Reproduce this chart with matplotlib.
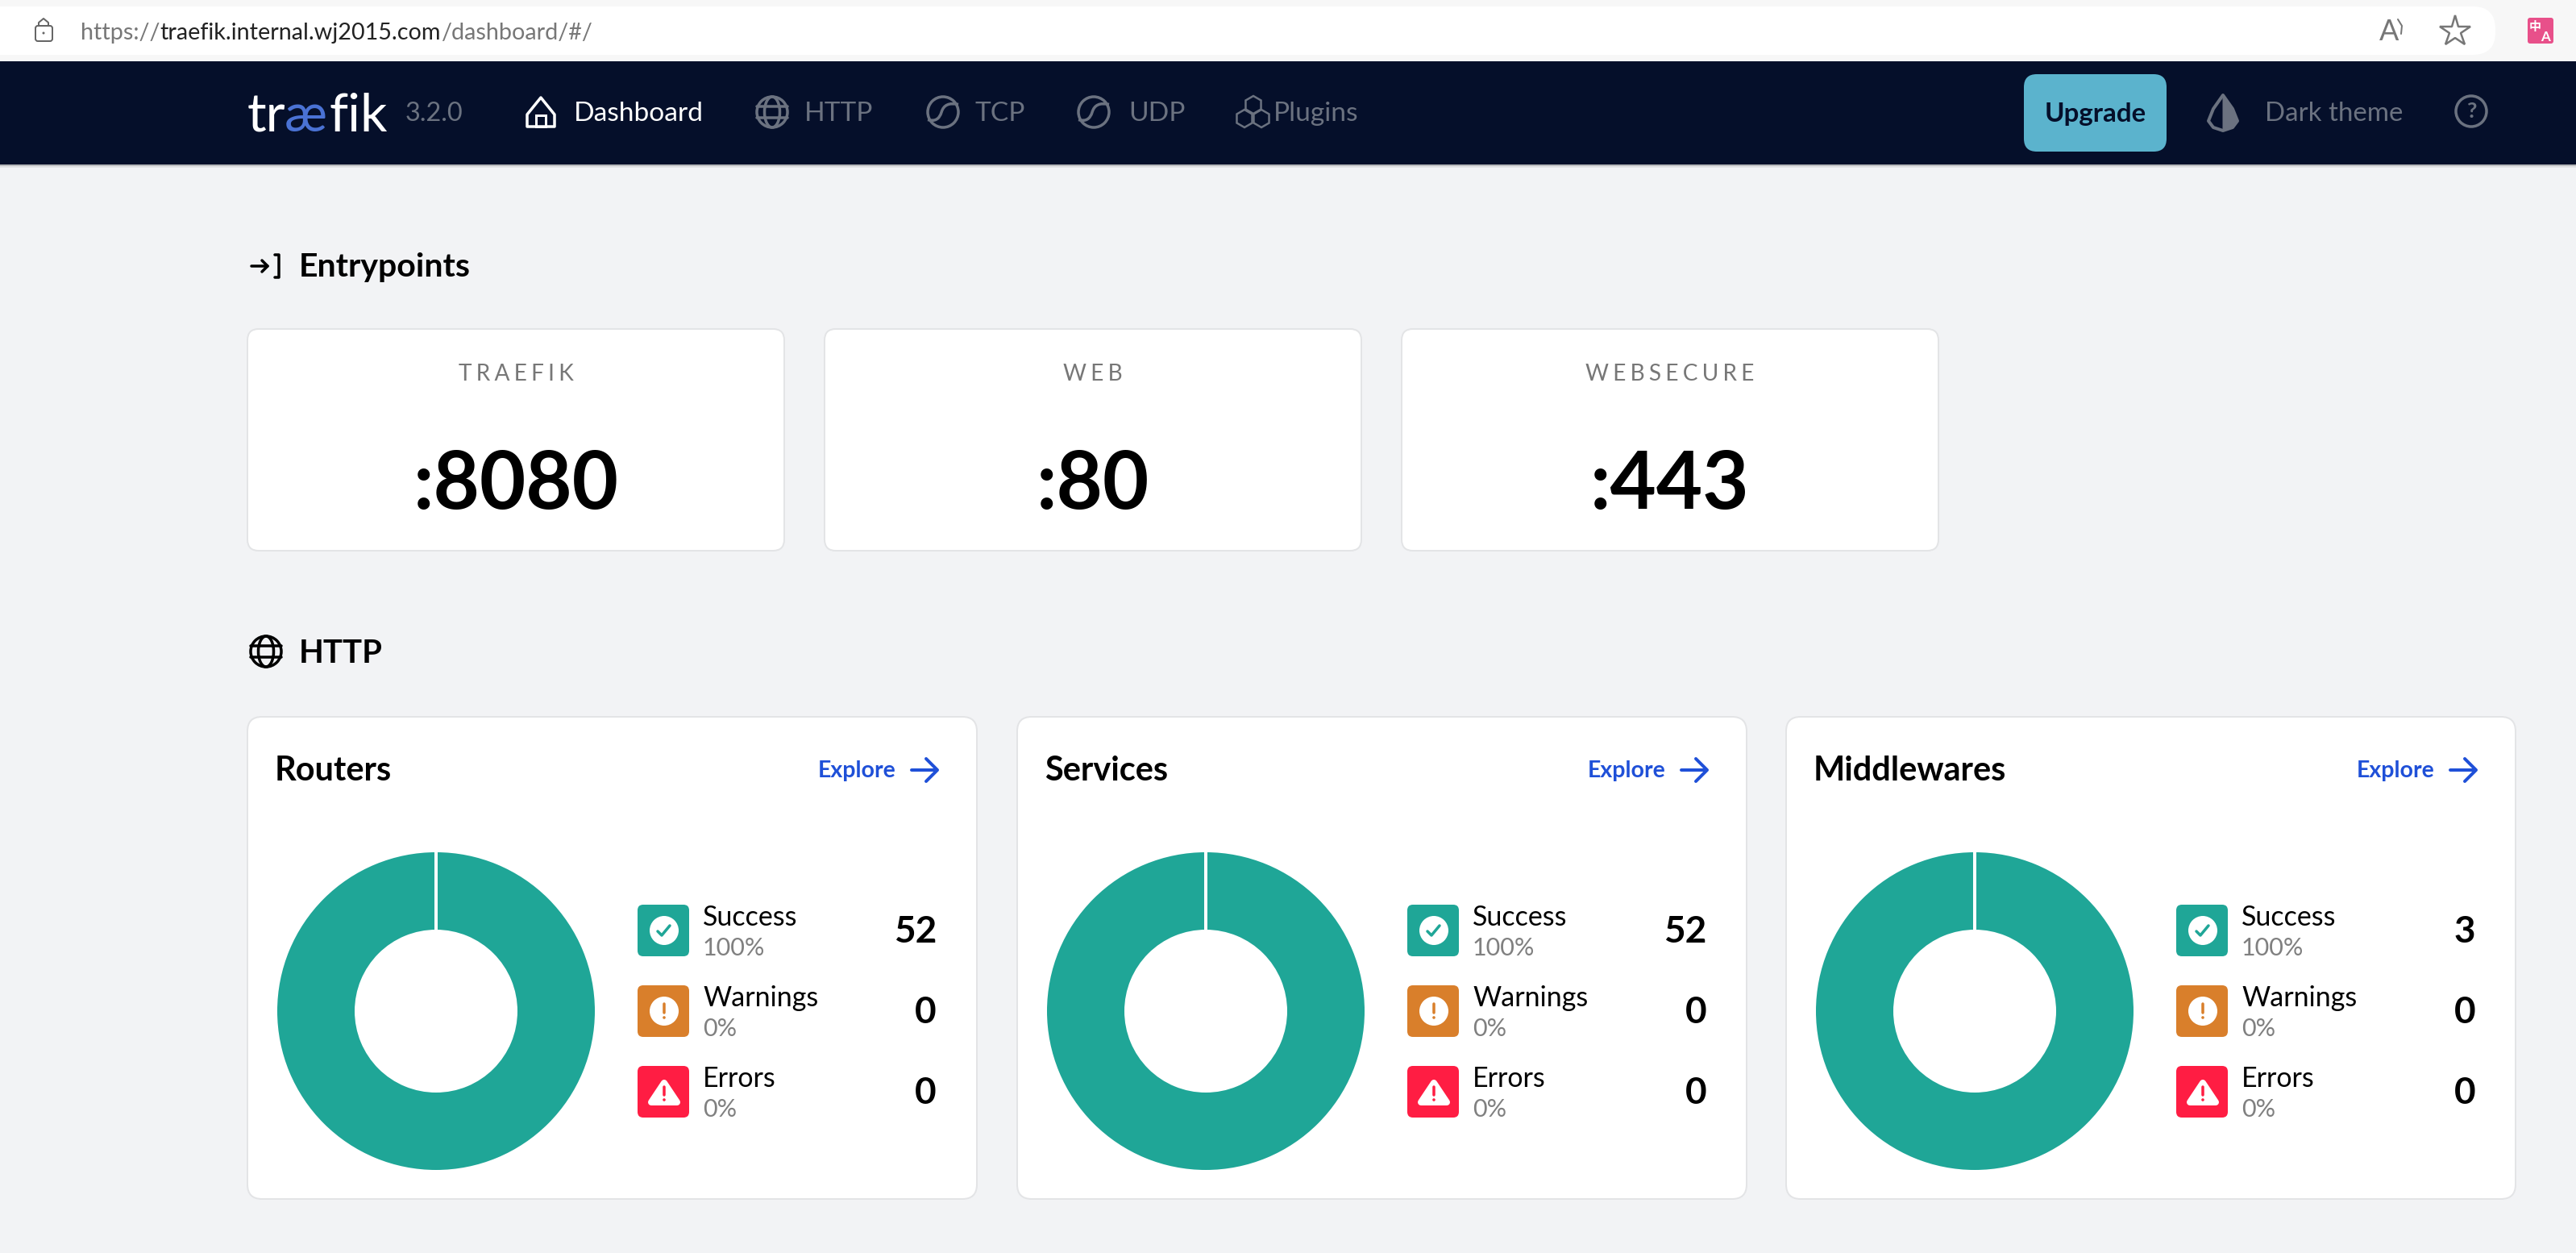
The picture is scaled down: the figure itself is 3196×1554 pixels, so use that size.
import matplotlib
matplotlib.use('Agg')
import matplotlib.pyplot as plt
from matplotlib.patches import Circle, Ellipse, FancyBboxPatch, Polygon, Rectangle, RegularPolygon, PathPatch
from matplotlib.path import Path

W, H = 3196, 1554

plt.rcParams['font.family'] = ['Lato', 'DejaVu Sans']

url_parts = ['https://', 'traefik.internal.wj2015.com', '/dashboard/#/']
version = '3.2.0'
nav_labels = ['Dashboard', 'HTTP', 'TCP', 'UDP', 'Plugins']
nav_x = [712, 998, 1210, 1400, 1580]

entry_names = ['TRAEFIK', 'WEB', 'WEBSECURE']
entry_ports = [':8080', ':80', ':443']

card_titles = ['Routers', 'Services', 'Middlewares']
success_counts = [52, 52, 3]
warning_counts = [0, 0, 0]
error_counts = [0, 0, 0]
success_pct = ['100%', '100%', '100%']
warning_pct = ['0%', '0%', '0%']
error_pct = ['0%', '0%', '0%']

BG = '#f2f3f5'
NAVY = '#050f2a'
MUTED = '#6b7280'
TEAL = '#1fa697'
ORANGE = '#d97f2b'
RED = '#ff1d43'
BLUE = '#1f50d8'
GRID = '#e3e4e6'

fig = plt.figure(figsize=(31.96, 15.54), dpi=100, facecolor=BG)
ax = fig.add_axes([0, 0, 1, 1])
ax.set_xlim(0, W)
ax.set_ylim(H, 0)
ax.axis('off')


def px(v):
    return v * 0.72


def box(x0, y0, x1, y1, r, fc, ec='none', lw=0, z=2):
    p = FancyBboxPatch((x0 + r, y0 + r), x1 - x0 - 2 * r, y1 - y0 - 2 * r,
                       boxstyle='round,pad=%g,rounding_size=%g' % (r, r),
                       fc=fc, ec=ec, lw=px(lw), zorder=z)
    ax.add_patch(p)


def line(xs, ys, color, lw, z=4, cap='round'):
    ax.plot(xs, ys, color=color, lw=px(lw), solid_capstyle=cap, solid_joinstyle='round', zorder=z)


def label(x, y, s, size, color='black', ha='left', weight='normal', va='center', **kw):
    # centred text sat about 2px high against the screenshot
    if va == 'center':
        y = y + 2
    return ax.text(x, y, s, fontsize=px(size), color=color, ha=ha, va=va, fontweight=weight, zorder=5, **kw)


def globe(cx, cy, r, color, lw):
    ax.add_patch(Circle((cx, cy), r, fc='none', ec=color, lw=px(lw), zorder=4))
    ax.add_patch(Ellipse((cx, cy), r, 2 * r, fc='none', ec=color, lw=px(lw), zorder=4))
    line([cx - r, cx + r], [cy - r * 0.35, cy - r * 0.35], color, lw)
    line([cx - r, cx + r], [cy + r * 0.35, cy + r * 0.35], color, lw)


def swirl(cx, cy, r, color, lw):
    ax.add_patch(Circle((cx, cy), r, fc='none', ec=color, lw=px(lw), zorder=4))
    verts = [(cx - r, cy + r * 0.5), (cx - r * 0.3, cy + r * 0.7), (cx - r * 0.1, cy),
             (cx + r * 0.1, cy - r * 0.7), (cx + r, cy - r * 0.5)]
    codes = [Path.MOVETO, Path.CURVE3, Path.CURVE3, Path.CURVE3, Path.CURVE3]
    ax.add_patch(PathPatch(Path(verts, codes), fc='none', ec=color, lw=px(lw), zorder=4))


# browser bar
ax.add_patch(Rectangle((0, 0), W, 76, fc='#f7f7f7', ec='none', zorder=1))
box(-40, 8, 3096, 68, 28, 'white', z=2)
box(44, 32, 65, 51, 3, 'none', '#666666', 2, z=3)
line([48, 48, 54, 60, 60], [32, 28, 23, 28, 32], '#666666', 2)
ax.add_patch(Circle((54, 41), 1.5, fc='#666666', zorder=4))
t1 = label(100, 39, url_parts[0], 28.8, '#777777')
t2 = ax.annotate(url_parts[1], xy=(1, 0.5), xycoords=t1, va='center', fontsize=px(28.8), color='#222222', zorder=5)
ax.annotate(url_parts[2], xy=(1, 0.5), xycoords=t2, va='center', fontsize=px(28.8), color='#777777', zorder=5)
label(2952, 38, 'A', 36, '#777777')
line([2975, 2980, 2979], [24, 32, 42], '#777777', 2)
ax.plot([3046], [39], marker='*', ms=px(40), mfc='none', mec='#777777', mew=px(2.5), zorder=4)
box(3136, 22, 3168, 54, 3, '#e8508a', z=3)
label(3145, 31, '中', 15, 'white', ha='center', weight='bold', family=['Noto Sans CJK SC', 'DejaVu Sans'])
label(3158, 44, 'A', 17, 'white', ha='center', weight='bold')

# header
ax.add_patch(Rectangle((0, 76), W, 128, fc=NAVY, ec='none', zorder=2))
ax.add_patch(Rectangle((0, 204), W, 2, fc='#b8b9bb', ec='none', zorder=1))
ax.add_patch(Rectangle((0, 206), W, 2, fc='#e2e3e5', ec='none', zorder=1))
label(307, 163, 'tr', 66, 'white', va='baseline')
label(353, 163, 'æ', 66, '#4a72d4', va='baseline')
label(408, 163, 'fik', 66, 'white', va='baseline')
label(503, 139, version, 32.5, MUTED)

# nav items
ax.add_patch(Polygon([(671, 121), (688, 142), (688, 157), (654, 157), (654, 142)], closed=True,
                     fc='none', ec='white', lw=px(3.5), joinstyle='round', zorder=4))
ax.add_patch(Rectangle((665, 143), 12, 14, fc='none', ec='white', lw=px(3), zorder=4))
label(nav_x[0], 139, nav_labels[0], 33.5, 'white')
globe(958, 139, 19, MUTED, 3.5)
swirl(1170, 139, 19, MUTED, 3.5)
swirl(1357, 139, 19, MUTED, 3.5)
for hx, hy in [(1555, 130), (1544, 147), (1565, 147)]:
    ax.add_patch(RegularPolygon((hx, hy), 6, radius=11, fc='none', ec=MUTED, lw=px(2.5), zorder=4))
for s, x in zip(nav_labels[1:], nav_x[1:]):
    label(x, 139, s, 33.5, MUTED)

box(2511, 92, 2688, 188, 16, '#5bb3cd', z=3)
label(2600, 139, 'Upgrade', 33, NAVY, ha='center', weight='bold')
ax.add_patch(Polygon([(2758, 118), (2770, 135), (2776, 150), (2770, 158), (2758, 162),
                      (2746, 158), (2740, 150), (2746, 135)], closed=True,
                     fc=NAVY, ec=MUTED, lw=px(4), joinstyle='round', zorder=4))
ax.add_patch(Polygon([(2758, 118), (2770, 135), (2776, 150), (2770, 158), (2758, 162)], closed=True,
                     fc=MUTED, ec=MUTED, lw=px(1), zorder=4))
label(2810, 139, 'Dark theme', 33, MUTED)
ax.add_patch(Circle((3066, 138), 19, fc='none', ec=MUTED, lw=px(3.5), zorder=4))
label(3066, 136, '?', 27, MUTED, ha='center', weight='bold')

# section headings
line([312, 332], [330, 330], 'black', 3.5)
line([325, 332, 325], [323, 330, 337], 'black', 3.5)
line([341, 346, 346, 341], [316, 316, 344, 344], 'black', 3.5)
label(371, 330, 'Entrypoints', 41, 'black', weight='bold')
globe(330, 808, 19, 'black', 3.5)
label(371, 808, 'HTTP', 40, 'black', weight='bold')

# entry point cards
entry_x = [307, 1023, 1739]
for x, name, port in zip(entry_x, entry_names, entry_ports):
    box(x, 408, x + 666, 683, 14, 'white', GRID, 2)
    label(x + 333, 462, '\u2009\u200a'.join(name), 28, '#777777', ha='center')
    label(x + 333, 601, port, 99, 'black', ha='center', weight='bold')

# donut cards
card_x = [307, 1262, 2216]
rows = [1154, 1254, 1354]
names = ['Success', 'Warnings', 'Errors']
colors = [TEAL, ORANGE, RED]
R_OUT, R_IN = 197, 101
for i, x in enumerate(card_x):
    box(x, 889, x + 905, 1487, 18, 'white', GRID, 2)
    label(x + 34, 954, card_titles[i], 41.5, 'black', weight='bold')
    label(x + 708, 954, 'Explore', 28.5, BLUE, weight='bold')
    line([x + 824, x + 855], [955, 955], BLUE, 4)
    line([x + 842, x + 856, x + 842], [941, 955, 969], BLUE, 4)

    counts = [success_counts[i], warning_counts[i], error_counts[i]]
    pcts = [success_pct[i], warning_pct[i], error_pct[i]]

    cx, cy = x + 234, 1254
    pie_ax = fig.add_axes([(cx - R_OUT) / W, 1 - (cy + R_OUT) / H, 2 * R_OUT / W, 2 * R_OUT / H])
    pie_ax.pie(counts, colors=colors, startangle=90, counterclock=False, radius=1,
               wedgeprops={'width': 1 - R_IN / R_OUT, 'linewidth': 0})
    pie_ax.plot([0, 0], [R_IN / R_OUT, 1], color='white', lw=px(4), solid_capstyle='butt')
    pie_ax.set_xlim(-1, 1)
    pie_ax.set_ylim(-1, 1)

    ix = x + 484
    for j, yc in enumerate(rows):
        box(ix, yc - 32, ix + 64, yc + 32, 7, colors[j], z=3)
        icx = ix + 33
        if j == 0:
            ax.add_patch(Circle((icx, yc), 18, fc='white', zorder=4))
            line([icx - 8, icx - 3, icx + 7], [yc + 1, yc + 6, yc - 6], TEAL, 3.5, z=5)
        elif j == 1:
            ax.add_patch(Circle((icx, yc), 18, fc='white', zorder=4))
            line([icx, icx], [yc - 9, yc + 2], ORANGE, 3.5, z=5)
            ax.add_patch(Circle((icx, yc + 8), 1.8, fc=ORANGE, zorder=5))
        else:
            ax.add_patch(Polygon([(icx, yc - 11), (icx + 16, yc + 13), (icx - 16, yc + 13)], closed=True,
                                 fc='white', ec='white', lw=px(8), joinstyle='round', zorder=4))
            line([icx, icx], [yc - 6, yc + 4], RED, 3.5, z=5)
            ax.add_patch(Circle((icx, yc + 10), 1.8, fc=RED, zorder=5))
        label(x + 565, yc - 18, names[j], 34, 'black')
        label(x + 565, yc + 20, pcts[j], 30.5, '#808080')
        label(x + 855, yc, str(counts[j]), 46, 'black', ha='right', weight='bold')

fig.savefig('out.png', dpi=100, facecolor=BG)
